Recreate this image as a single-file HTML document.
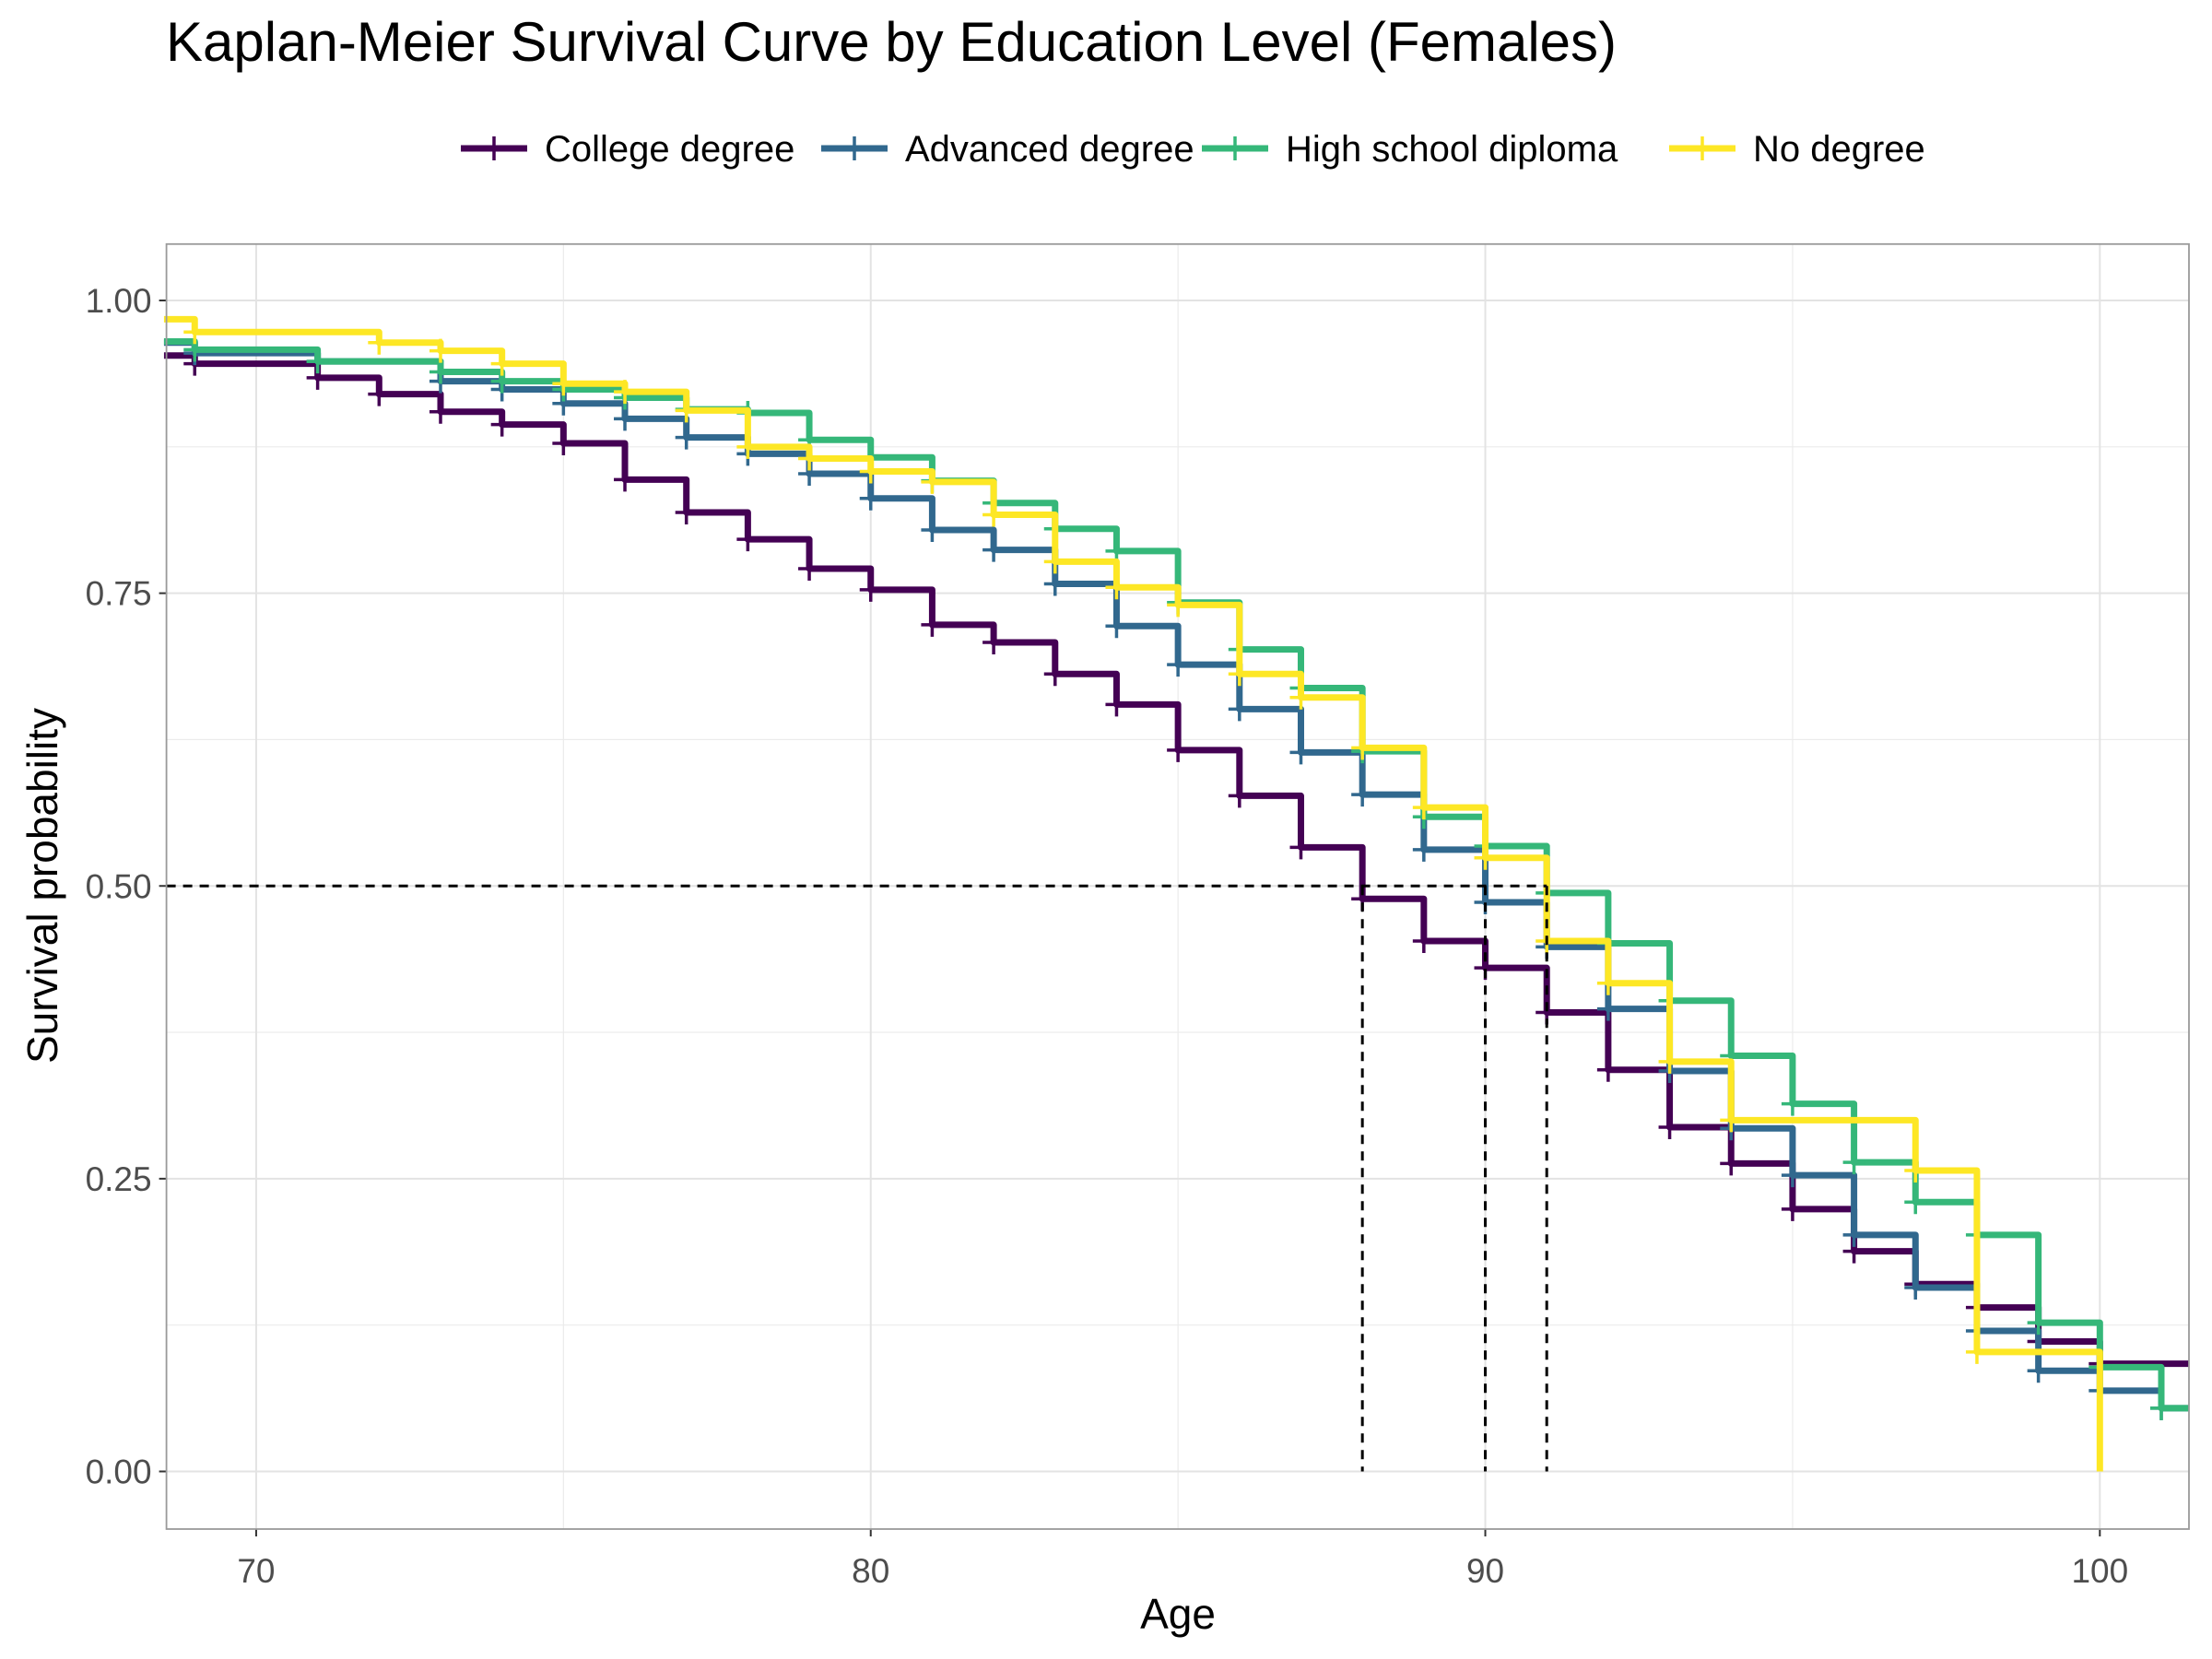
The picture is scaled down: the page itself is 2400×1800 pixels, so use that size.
<!DOCTYPE html>
<html><head><meta charset="utf-8"><style>
body{margin:0;background:#fff}
svg{display:block;font-family:"Liberation Sans",Arial,sans-serif}
</style></head><body>
<svg id="chart" width="2400" height="1800" viewBox="0 0 2400 1800" xmlns="http://www.w3.org/2000/svg">
<text x="180" y="66" font-size="60" fill="#000">Kaplan-Meier Survival Curve by Education Level (Females)</text>
<g id="legend"></g>
<g id="grid"></g>
<g id="series"></g>
<g id="axes"></g>
<text x="1278" y="1767" font-size="46" text-anchor="middle" fill="#000">Age</text>
<text transform="translate(62,961) rotate(-90)" font-size="46" text-anchor="middle" fill="#000">Survival probability</text>
</svg>
<script>
const seriesNames = ["College degree","Advanced degree","High school diploma","No degree"];
const seriesColors = ["#440154","#31688E","#35B779","#FDE725"];
const collegeAges = [68.5,69,71,72,73,74,75,76,77,78,79,80,81,82,83,84,85,86,87,88,89,90,91,92,93,94,95,96,97,98,99,100];
const collegeSurv = [0.953,0.946,0.934,0.920,0.905,0.894,0.878,0.847,0.819,0.796,0.771,0.753,0.723,0.708,0.681,0.655,0.616,0.577,0.533,0.489,0.453,0.430,0.392,0.343,0.294,0.263,0.224,0.188,0.160,0.140,0.111,0.092];
const advancedAges = [68.5,69,71,73,74,75,76,77,78,79,80,81,82,83,84,85,86,87,88,89,90,91,92,93,94,95,96,97,98,99,100,101];
const advancedSurv = [0.964,0.955,0.948,0.931,0.924,0.912,0.899,0.883,0.869,0.852,0.831,0.804,0.787,0.758,0.722,0.689,0.651,0.614,0.578,0.531,0.486,0.448,0.395,0.342,0.293,0.253,0.202,0.157,0.120,0.086,0.069,0.054];
const highAges = [68.5,69,71,73,74,75,76,77,78,79,80,81,82,83,84,85,86,87,88,89,90,91,92,93,94,95,96,97,98,99,100,101];
const highSurv = [0.965,0.958,0.948,0.939,0.931,0.924,0.917,0.907,0.904,0.881,0.866,0.846,0.827,0.805,0.786,0.742,0.702,0.669,0.615,0.559,0.534,0.494,0.451,0.402,0.355,0.314,0.264,0.230,0.202,0.127,0.089,0.054];
const noneAges = [68.5,69,72,73,74,75,76,77,78,79,80,81,82,83,84,85,86,87,88,89,90,91,92,93,94,97,98,100];
const noneSurv = [0.984,0.973,0.964,0.957,0.946,0.929,0.922,0.906,0.875,0.865,0.854,0.845,0.817,0.777,0.755,0.740,0.681,0.661,0.618,0.567,0.524,0.453,0.417,0.350,0.300,0.257,0.102,0.0];
const medianAges = [88,90,91];
const xTicks = [70,80,90,100];
const yTicks = [0,0.25,0.5,0.75,1.0];
const yTickLabels = ["0.00","0.25","0.50","0.75","1.00"];

const NS="http://www.w3.org/2000/svg";
const PL=180.6, PR=2375, PT=264.8, PB=1659;
const X0=68.54, X1=101.45;
function sx(v){return PL+(v-X0)/(X1-X0)*(PR-PL);}
function sy(v){return 1596.5-v*1270.5;}
function mk(t,a,p){const e=document.createElementNS(NS,t);for(const k in a)e.setAttribute(k,a[k]);p.appendChild(e);return e;}
const grid=document.getElementById('grid'),ser=document.getElementById('series'),axes=document.getElementById('axes'),leg=document.getElementById('legend');
mk('rect',{x:PL,y:PT,width:PR-PL,height:PB-PT,fill:'#fff'},grid);
[75,85,95].forEach(v=>{const l=mk('line',{x1:sx(v),x2:sx(v),y1:PT,y2:PB,stroke:'#EBEBEB','stroke-width':1.2},grid);

});
[0.125,0.375,0.625,0.875].forEach(v=>{const l=mk('line',{x1:PL,x2:PR,y1:sy(v),y2:sy(v),stroke:'#EBEBEB','stroke-width':1.2},grid);

});
xTicks.forEach(v=>{const l=mk('line',{x1:sx(v),x2:sx(v),y1:PT,y2:PB,stroke:'#E3E3E3','stroke-width':2},grid);


const t=mk('line',{x1:sx(v),x2:sx(v),y1:PB,y2:PB+8,stroke:'#333','stroke-width':2},axes);


const tx=mk('text',{x:sx(v),y:PB+58,'font-size':37,'text-anchor':'middle',fill:'#4d4d4d'},axes);tx.textContent=v;

});
yTicks.forEach((v,i)=>{const l=mk('line',{x1:PL,x2:PR,y1:sy(v),y2:sy(v),stroke:'#E3E3E3','stroke-width':2},grid);


const t=mk('line',{x1:PL-8,x2:PL,y1:sy(v),y2:sy(v),stroke:'#333','stroke-width':2},axes);


const tx=mk('text',{x:PL-16,y:sy(v)+13,'font-size':37,'text-anchor':'end',fill:'#4d4d4d'},axes);tx.textContent=yTickLabels[i];

});

const all=[[collegeAges,collegeSurv],[advancedAges,advancedSurv],[highAges,highSurv],[noneAges,noneSurv]];
all.forEach((s,k)=>{const [a,v]=s;let d='M'+sx(a[0])+','+sy(v[0]);
for(let i=1;i<a.length;i++){d+=' H'+sx(a[i])+' V'+sy(v[i]);}
if(v[v.length-1]>0)d+=' H'+PR;
const p=mk('path',{d:d,fill:'none',stroke:seriesColors[k],'stroke-width':7,'stroke-linejoin':'round'},ser);


for(let i=1;i<a.length;i++){if(v[i]<=0)continue;const cx=sx(a[i]),cy=sy(v[i]);
const c=mk('path',{d:`M${cx-12},${cy} H${cx+12} M${cx},${cy-13} V${cy+13}`,stroke:seriesColors[k],'stroke-width':3.5},ser);

}});
const md=mk('path',{d:`M${PL},${sy(0.5)} H${sx(Math.max(...medianAges))}`,stroke:'#000','stroke-width':3,'stroke-dasharray':'10,8',fill:'none'},ser);


medianAges.forEach(m=>{const l=mk('line',{x1:sx(m),x2:sx(m),y1:sy(0.5),y2:sy(0),stroke:'#000','stroke-width':3,'stroke-dasharray':'10,8'},ser);

});
const border=mk('rect',{x:PL,y:PT,width:PR-PL,height:PB-PT,fill:'none',stroke:'#9a9a9a','stroke-width':1.8},axes);


const keyX=[500,891,1304,1811];
seriesNames.forEach((n,k)=>{const g=mk('g',{},leg);


const x=keyX[k],y=161;
mk('line',{x1:x,x2:x+72,y1:y,y2:y,stroke:seriesColors[k],'stroke-width':7},g);
mk('path',{d:`M${x+24},${y} H${x+48} M${x+36},${y-13} V${y+13}`,stroke:seriesColors[k],'stroke-width':3.5},g);
const t=mk('text',{x:x+91,y:y+14,'font-size':40,fill:'#000'},g);t.textContent=n;});
</script>
</body></html>
